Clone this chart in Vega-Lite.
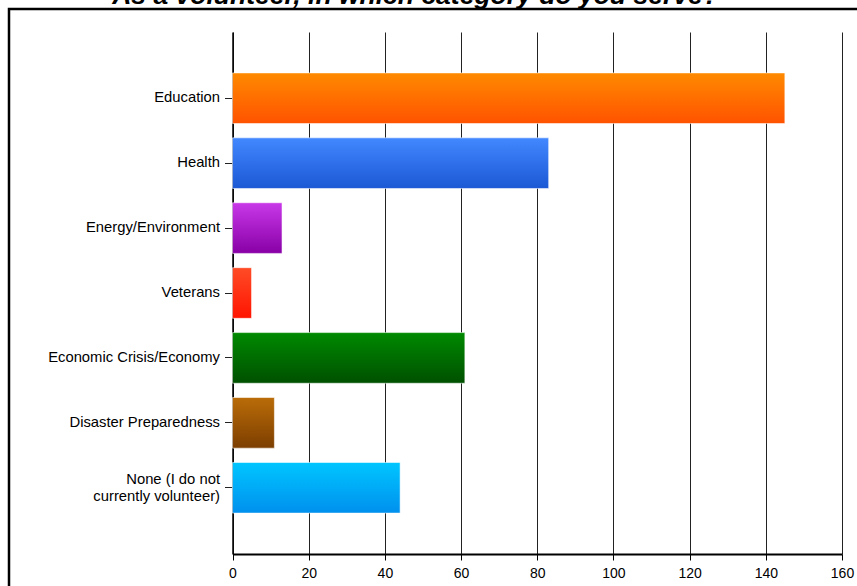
{
  "$schema": "https://vega.github.io/schema/vega-lite/v6.json",
  "width": 848,
  "height": 577,
  "autosize": {"type": "none"},
  "padding": {"left": 9, "top": 9, "right": 0, "bottom": 0},
  "background": "white",
  "title": {
    "text": "As a volunteer, in which category do you serve?",
    "font": "Liberation Sans",
    "fontSize": 26.5,
    "fontWeight": "bold",
    "fontStyle": "italic",
    "color": "black",
    "anchor": "middle",
    "dx": -17.5,
    "dy": 24.5,
    "baseline": "alphabetic",
    "offset": 3
  },
  "data": {
    "values": [
      {"category": "Education", "count": 145},
      {"category": "Health", "count": 83},
      {"category": "Energy/Environment", "count": 13},
      {"category": "Veterans", "count": 5},
      {"category": "Economic Crisis/Economy", "count": 61},
      {"category": "Disaster Preparedness", "count": 11},
      {"category": "None (I do not\ncurrently volunteer)", "count": 44}
    ]
  },
  "mark": {"type": "bar", "stroke": "white", "strokeOpacity": 0.55, "strokeWidth": 1},
  "encoding": {
    "y": {
      "field": "category",
      "type": "nominal",
      "sort": null,
      "scale": {"range": [23, 545], "paddingInner": 0.22, "paddingOuter": 0.63},
      "axis": {
        "title": null,
        "orient": "left",
        "offset": -223.5,
        "grid": false,
        "domainColor": "black",
        "domainWidth": 1.5,
        "tickColor": "#222222",
        "tickSize": 8,
        "tickWidth": 1,
        "labelFont": "Liberation Sans",
        "labelFontSize": 14.8,
        "labelColor": "black",
        "labelPadding": 5,
        "labelLimit": 300,
        "labelLineHeight": 17,
        "labelOffset": {"condition": {"test": "indexof(datum.value, 'None') === 0", "value": -8}, "value": 0},
        "labelExpr": "split(datum.label, '\\n')"
      }
    },
    "x": {
      "field": "count",
      "type": "quantitative",
      "scale": {"domain": [0, 160], "range": [223.5, 833], "nice": false},
      "axis": {
        "title": null,
        "orient": "top",
        "offset": -545,
        "values": [0, 20, 40, 60, 80, 100, 120, 140, 160],
        "grid": true,
        "gridColor": "#222222",
        "gridWidth": 1,
        "domainColor": "black",
        "domainWidth": 2,
        "tickColor": "black",
        "tickSize": -6,
        "tickWidth": 1,
        "labelBaseline": "top",
        "labelPadding": -6,
        "labelFont": "Liberation Sans",
        "labelFontSize": 14,
        "labelColor": "black",
        "labelFlush": false,
        "labelOverlap": false
      }
    },
    "fill": {
      "condition": [
        {"test": "datum.category === 'Education'", "value": {"gradient": "linear", "x1": 0, "y1": 0, "x2": 0, "y2": 1, "stops": [{"offset": 0, "color": "#ff8a00"}, {"offset": 1, "color": "#ff5200"}]}},
        {"test": "datum.category === 'Health'", "value": {"gradient": "linear", "x1": 0, "y1": 0, "x2": 0, "y2": 1, "stops": [{"offset": 0, "color": "#4288ff"}, {"offset": 1, "color": "#1c58d4"}]}},
        {"test": "datum.category === 'Energy/Environment'", "value": {"gradient": "linear", "x1": 0, "y1": 0, "x2": 0, "y2": 1, "stops": [{"offset": 0, "color": "#c838e8"}, {"offset": 1, "color": "#8800a6"}]}},
        {"test": "datum.category === 'Veterans'", "value": {"gradient": "linear", "x1": 0, "y1": 0, "x2": 0, "y2": 1, "stops": [{"offset": 0, "color": "#ff4c26"}, {"offset": 1, "color": "#ff1400"}]}},
        {"test": "datum.category === 'Economic Crisis/Economy'", "value": {"gradient": "linear", "x1": 0, "y1": 0, "x2": 0, "y2": 1, "stops": [{"offset": 0, "color": "#008a00"}, {"offset": 1, "color": "#005000"}]}},
        {"test": "datum.category === 'Disaster Preparedness'", "value": {"gradient": "linear", "x1": 0, "y1": 0, "x2": 0, "y2": 1, "stops": [{"offset": 0, "color": "#ba6c08"}, {"offset": 1, "color": "#7c3e00"}]}}
      ],
      "value": {"gradient": "linear", "x1": 0, "y1": 0, "x2": 0, "y2": 1, "stops": [{"offset": 0, "color": "#00c6ff"}, {"offset": 1, "color": "#0090ee"}]}
    }
  },
  "config": {
    "view": {"stroke": "black", "strokeWidth": 2.5, "strokeDash": [848, 1425, 577, 10], "strokeCap": "square"}
  }
}
